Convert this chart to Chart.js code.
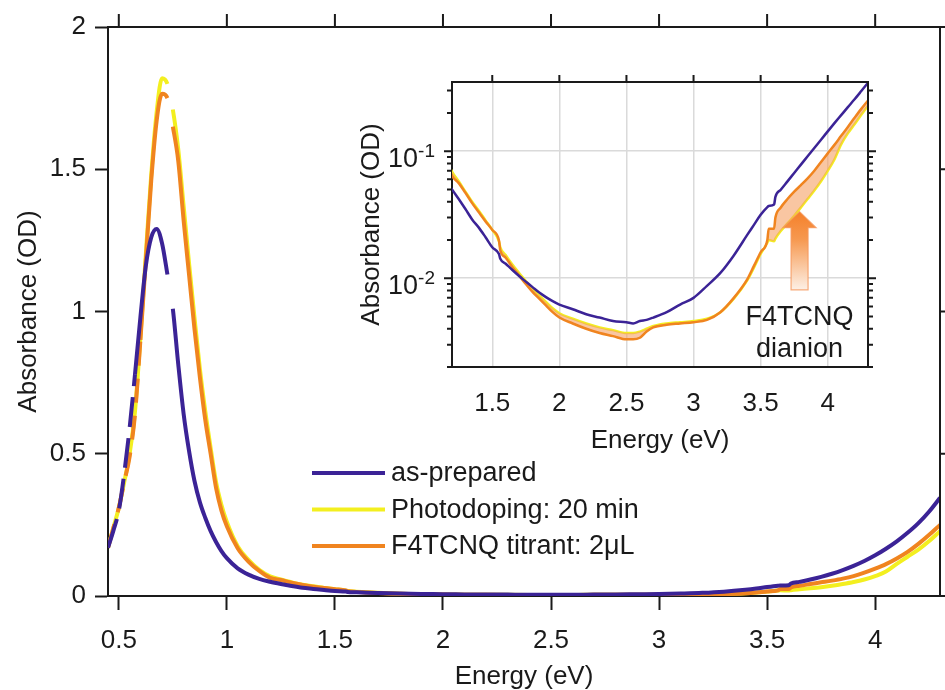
<!DOCTYPE html>
<html>
<head>
<meta charset="utf-8">
<title>Absorbance spectra</title>
<script src="https://cdn.jsdelivr.net/npm/chart.js@4/dist/chart.umd.min.js"></script>
<style>
  html, body { margin: 0; padding: 0; background: #fff; }
  #wrap { position: relative; width: 945px; height: 690px; overflow: hidden; }
  #main { position: absolute; left: 0; top: 0; }
  #inset { position: absolute; left: 340px; top: 60px; }
</style>
</head>
<body>
<div id="wrap">
  <canvas id="main" width="945" height="690"></canvas>
  <canvas id="inset" width="545" height="400"></canvas>
</div>
<script>
// photon energy (eV)
const energy = [
  0.45, 0.475, 0.5, 0.525, 0.55, 0.575, 0.6, 0.625, 0.65, 0.675,
  0.7, 0.725, 0.75, 0.775, 0.8, 0.825, 0.85, 0.875, 0.9, 0.925,
  0.95, 0.975, 1.0, 1.05, 1.1, 1.15, 1.2, 1.25, 1.3, 1.35,
  1.4, 1.45, 1.5, 1.55, 1.56, 1.6, 1.65, 1.7, 1.75, 1.8,
  1.85, 1.9, 1.95, 2.0, 2.1, 2.2, 2.3, 2.4, 2.5, 2.55,
  2.6, 2.65, 2.7, 2.8, 2.9, 3.0, 3.1, 3.2, 3.3, 3.4,
  3.45, 3.5, 3.55, 3.56, 3.6, 3.61, 3.65, 3.7, 3.75, 3.8,
  3.85, 3.9, 3.95, 4.0, 4.05, 4.1, 4.15, 4.2, 4.25, 4.3
];

// absorbance (OD)
const asPrepared = [
  0.17, 0.23, 0.30, 0.43, 0.59, 0.78, 0.98, 1.16, 1.26, 1.29,
  1.24, 1.13, 1.01, 0.815, 0.64, 0.51, 0.405, 0.33, 0.275, 0.228,
  0.19, 0.158, 0.133, 0.097, 0.075, 0.06, 0.05, 0.042, 0.035, 0.029,
  0.025, 0.021, 0.0175, 0.0155, 0.0142, 0.013, 0.0116, 0.0104, 0.0094, 0.0085,
  0.0077, 0.0071, 0.0066, 0.0062, 0.0057, 0.0052, 0.0049, 0.0046, 0.0045, 0.0044,
  0.0046, 0.0047, 0.0049, 0.0054, 0.0062, 0.0070, 0.0087, 0.011, 0.0151, 0.0219,
  0.0263, 0.0316, 0.0363, 0.037, 0.038, 0.0437, 0.0497, 0.0578, 0.0673, 0.0783,
  0.0912, 0.106, 0.123, 0.143, 0.166, 0.192, 0.222, 0.256, 0.297, 0.345
];

const photodoping = [
  0.17, 0.24, 0.31, 0.40, 0.50, 0.65, 0.91, 1.20, 1.48, 1.70,
  1.82, 1.80, 1.71, 1.57, 1.37, 1.17, 0.98, 0.80, 0.65, 0.52,
  0.40, 0.32, 0.26, 0.175, 0.127, 0.092, 0.069, 0.058, 0.048, 0.040,
  0.034, 0.0285, 0.024, 0.0195, 0.0175, 0.0152, 0.0128, 0.011, 0.0095, 0.0082,
  0.0073, 0.0065, 0.0058, 0.0053, 0.0048, 0.0044, 0.0041, 0.0039, 0.0037, 0.0037,
  0.0038, 0.0040, 0.0042, 0.0044, 0.0045, 0.0046, 0.0048, 0.0054, 0.0069, 0.0096,
  0.0121, 0.0155, 0.019, 0.020, 0.0195, 0.0205, 0.0235, 0.027, 0.031, 0.036,
  0.042, 0.049, 0.058, 0.070, 0.086, 0.113, 0.138, 0.163, 0.193, 0.228
];

const titrant = [
  0.17, 0.24, 0.31, 0.40, 0.49, 0.64, 0.90, 1.18, 1.46, 1.67,
  1.765, 1.75, 1.65, 1.53, 1.32, 1.13, 0.94, 0.77, 0.62, 0.50,
  0.38, 0.30, 0.245, 0.168, 0.121, 0.088, 0.064, 0.056, 0.047, 0.039,
  0.033, 0.028, 0.024, 0.0198, 0.0165, 0.0145, 0.0122, 0.0105, 0.009, 0.0078,
  0.0069, 0.0061, 0.0054, 0.0049, 0.0044, 0.0040, 0.0037, 0.0035, 0.0033, 0.0033,
  0.0034, 0.0038, 0.0041, 0.0043, 0.0044, 0.0045, 0.0047, 0.0054, 0.0070, 0.0098,
  0.0125, 0.016, 0.020, 0.0245, 0.0245, 0.030, 0.036, 0.042, 0.048, 0.054,
  0.061, 0.070, 0.082, 0.096, 0.112, 0.132, 0.155, 0.183, 0.215, 0.25
];

const seriesLabels = ['as-prepared', 'Photodoping: 20 min', 'F4TCNQ titrant: 2\u03bcL'];
const seriesColors = ['#3b2396', '#f3ef1f', '#f0841f'];

const mainXTicks = [0.5, 1, 1.5, 2, 2.5, 3, 3.5, 4];
const mainYTicks = [0, 0.5, 1, 1.5, 2];
const insetXTicks = [1.5, 2, 2.5, 3, 3.5, 4];
const insetDecades = [0.01, 0.1];

// dianion arrow and its label, in inset data coordinates
const arrowEnergy = 3.79;
const arrowFrom = 0.0081;
const arrowTo = 0.0334;
const noteLines = [['F4TCNQ', 0.00488], ['dianion', 0.00274]];

const FONT = 'Liberation Sans, Arial, Helvetica, sans-serif';
const INK = '#1a1a1a';
Chart.defaults.font.family = FONT;
Chart.defaults.color = INK;

// log minor ticks 2..9 x decade inside the inset range
const insetYTicks = [];
[0.001, 0.01, 0.1].forEach(d => {
  for (let m = 1; m <= 9; m++) {
    const v = +(m * d).toPrecision(3);
    if (v >= 0.002 && v <= 0.35) insetYTicks.push(v);
  }
});
const isDecade = v => Math.abs(Math.log10(v) - Math.round(Math.log10(v))) < 1e-6;

// scan has a hole near the peak; the rising edge was recorded in pieces
const dashes = [[30, 11], null, [24, 13]];
const dashEnd = [0.575, 0, 0.6];

function makeDatasets(width, shade) {
  return [asPrepared, photodoping, titrant].map((vals, i) => ({
    label: seriesLabels[i],
    data: energy.map((e, j) => ({ x: e, y: vals[j] })),
    borderColor: seriesColors[i],
    backgroundColor: 'rgba(245, 160, 100, 0.6)',
    borderWidth: width,
    pointRadius: 0,
    cubicInterpolationMode: 'monotone',
    order: [0, 2, 1][i],
    fill: (shade && i === 2) ? { target: 1 } : false,
    segment: {
      borderColor: ctx => (ctx.p0.parsed.x > 0.72 && ctx.p1.parsed.x < 0.76) ? 'rgba(0,0,0,0)' : undefined,
      borderDash: ctx => (dashes[i] && ctx.p1.parsed.x <= dashEnd[i]) ? dashes[i] : undefined
    }
  }));
}

const fixedTicks = list => scale => { scale.ticks = list.map(v => ({ value: v })); };

// top/right spines with mirrored ticks, and the legend inside the axes
const mainFrame = {
  id: 'mainFrame',
  afterDraw(chart) {
    const { ctx, chartArea: a, scales: { x, y } } = chart;
    ctx.save();
    ctx.strokeStyle = INK;
    ctx.lineWidth = 2;
    ctx.beginPath();
    ctx.moveTo(a.left - 1, a.top);
    ctx.lineTo(a.right, a.top);
    ctx.lineTo(a.right, a.bottom + 1);
    mainXTicks.forEach(v => {
      const px = x.getPixelForValue(v);
      ctx.moveTo(px, a.top);
      ctx.lineTo(px, a.top - 13);
    });
    mainYTicks.forEach(v => {
      const py = y.getPixelForValue(v);
      ctx.moveTo(a.right, py);
      ctx.lineTo(a.right + 13, py);
    });
    ctx.stroke();

    ctx.font = '27px ' + FONT;
    ctx.textAlign = 'left';
    ctx.textBaseline = 'middle';
    chart.data.datasets.forEach((ds, i) => {
      const yy = 473 + i * 36.5;
      ctx.strokeStyle = ds.borderColor;
      ctx.lineWidth = 4;
      ctx.beginPath();
      ctx.moveTo(312, yy);
      ctx.lineTo(385, yy);
      ctx.stroke();
      ctx.fillStyle = INK;
      ctx.fillText(ds.label, 391, yy + 1);
    });
    ctx.restore();
  }
};

new Chart(document.getElementById('main'), {
  type: 'line',
  data: { datasets: makeDatasets(4, false) },
  options: {
    responsive: false,
    animation: false,
    layout: { padding: { top: 27, right: 5, left: 0, bottom: 0 } },
    plugins: { legend: { display: false }, tooltip: { enabled: false } },
    scales: {
      x: {
        type: 'linear', min: 0.45, max: 4.3,
        afterBuildTicks: fixedTicks(mainXTicks),
        afterFit: s => { s.height = 94; },
        grid: { drawOnChartArea: false, drawTicks: true, tickLength: 14, tickColor: INK, tickWidth: 2 },
        border: { display: true, color: INK, width: 2 },
        ticks: { font: { size: 26 }, color: INK, padding: 15, maxRotation: 0, autoSkip: false, callback: v => String(v) },
        title: { display: true, text: 'Energy (eV)', font: { size: 26 }, color: INK, padding: { top: 0, bottom: -2 } }
      },
      y: {
        type: 'linear', min: 0, max: 2,
        afterBuildTicks: fixedTicks(mainYTicks),
        afterFit: s => { s.width = 108; },
        grid: { drawOnChartArea: false, drawTicks: true, tickLength: 13, tickColor: INK, tickWidth: 2 },
        border: { display: true, color: INK, width: 2 },
        ticks: { font: { size: 26 }, color: INK, padding: 9, autoSkip: false, callback: v => String(v) },
        title: { display: true, text: 'Absorbance (OD)', font: { size: 26 }, color: INK, padding: { top: 13, bottom: 0 } }
      }
    }
  },
  plugins: [mainFrame]
});

// inset: spines, outward ticks, power-of-ten labels, dianion arrow
const insetFrame = {
  id: 'insetFrame',
  afterDatasetsDraw(chart) {
    const { ctx, scales: { x, y } } = chart;
    const px = x.getPixelForValue(arrowEnergy);
    const yTip = y.getPixelForValue(arrowTo);
    const yBase = y.getPixelForValue(arrowFrom);
    const head = 16;
    const grad = ctx.createLinearGradient(0, yTip, 0, yBase);
    grad.addColorStop(0, '#f5802a');
    grad.addColorStop(0.35, '#f6984f');
    grad.addColorStop(1, '#fdf0e6');
    ctx.save();
    ctx.beginPath();
    ctx.moveTo(px, yTip);
    ctx.lineTo(px + 16.5, yTip + head);
    ctx.lineTo(px + 8.5, yTip + head);
    ctx.lineTo(px + 8.5, yBase);
    ctx.lineTo(px - 8.5, yBase);
    ctx.lineTo(px - 8.5, yTip + head);
    ctx.lineTo(px - 16.5, yTip + head);
    ctx.closePath();
    ctx.fillStyle = grad;
    ctx.fill();
    ctx.strokeStyle = 'rgba(245, 150, 90, 0.8)';
    ctx.lineWidth = 1.2;
    ctx.stroke();

    ctx.fillStyle = INK;
    ctx.font = '27px ' + FONT;
    ctx.textAlign = 'center';
    ctx.textBaseline = 'middle';
    noteLines.forEach(([t, v]) => ctx.fillText(t, px, y.getPixelForValue(v)));
    ctx.restore();
  },
  afterDraw(chart) {
    const { ctx, chartArea: a, scales: { x, y } } = chart;
    ctx.save();
    ctx.strokeStyle = INK;
    ctx.lineWidth = 2;
    ctx.beginPath();
    ctx.moveTo(a.left - 1, a.top);
    ctx.lineTo(a.right, a.top);
    ctx.lineTo(a.right, a.bottom + 1);
    insetXTicks.forEach(v => {
      const p = x.getPixelForValue(v);
      ctx.moveTo(p, a.top);
      ctx.lineTo(p, a.top - 7);
    });
    insetYTicks.forEach(v => {
      const p = y.getPixelForValue(v);
      const len = isDecade(v) ? 8 : 5;
      ctx.moveTo(a.left, p);
      ctx.lineTo(a.left - len, p);
      ctx.moveTo(a.right, p);
      ctx.lineTo(a.right + len, p);
    });
    ctx.stroke();

    ctx.fillStyle = INK;
    ctx.textAlign = 'right';
    ctx.textBaseline = 'alphabetic';
    insetDecades.forEach(v => {
      const p = y.getPixelForValue(v);
      const sup = String(Math.round(Math.log10(v)));
      const right = a.left - 17;
      ctx.font = '19px ' + FONT;
      const w = ctx.measureText(sup).width;
      ctx.fillText(sup, right, p + 6);
      ctx.font = '27px ' + FONT;
      ctx.fillText('10', right - w, p + 15.5);
    });
    ctx.restore();
  }
};

new Chart(document.getElementById('inset'), {
  type: 'line',
  data: { datasets: makeDatasets(2.5, true) },
  options: {
    responsive: false,
    animation: false,
    layout: { padding: { top: 22, right: 17, left: 0, bottom: 0 } },
    plugins: { legend: { display: false }, tooltip: { enabled: false } },
    scales: {
      x: {
        type: 'linear', min: 1.2, max: 4.3,
        afterBuildTicks: fixedTicks(insetXTicks),
        afterFit: s => { s.height = 93; },
        grid: { drawOnChartArea: true, drawTicks: false, color: '#dadada', lineWidth: 1.5 },
        border: { display: true, color: INK, width: 2 },
        ticks: { font: { size: 26 }, color: INK, padding: 21, maxRotation: 0, autoSkip: false, callback: v => String(v) },
        title: { display: true, text: 'Energy (eV)', font: { size: 26 }, color: INK, padding: { top: 0, bottom: 4 } }
      },
      y: {
        type: 'logarithmic', min: 0.002, max: 0.35,
        afterBuildTicks: fixedTicks(insetYTicks),
        afterFit: s => { s.width = 112; },
        grid: {
          drawOnChartArea: true, drawTicks: false, lineWidth: 1.5,
          color: ctx => (ctx.tick && isDecade(ctx.tick.value)) ? '#dadada' : 'rgba(0,0,0,0)'
        },
        border: { display: true, color: INK, width: 2 },
        ticks: { autoSkip: false, callback: () => '' },
        title: { display: true, text: 'Absorbance (OD)', font: { size: 26 }, color: INK, padding: { top: 16, bottom: 0 } }
      }
    }
  },
  plugins: [insetFrame]
});
</script>
</body>
</html>
